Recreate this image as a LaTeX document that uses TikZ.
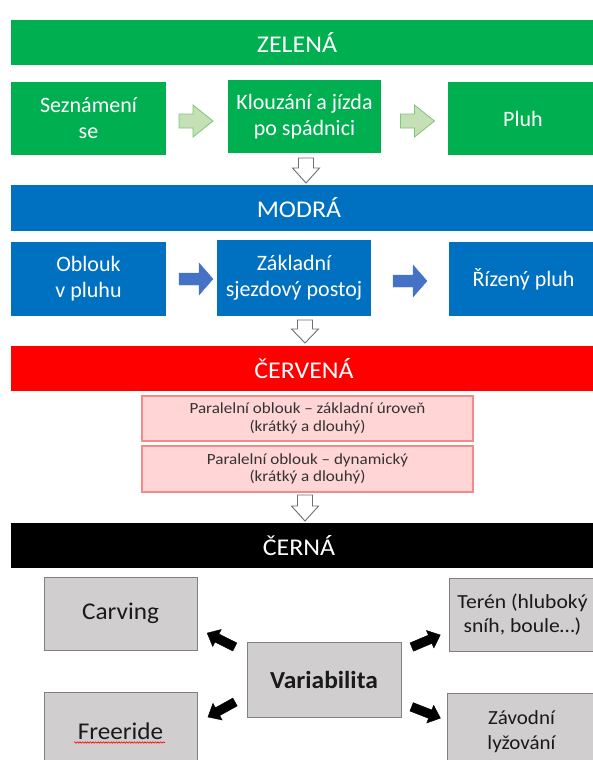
\documentclass[tikz,border=0pt]{standalone}
\usepackage{fontspec}
\setmainfont{Carlito}
\usetikzlibrary{decorations.pathmorphing}
\definecolor{cgreen}{HTML}{00B050}
\definecolor{cblue}{HTML}{0070C0}
\definecolor{cred}{HTML}{FF0000}
\definecolor{cpink}{HTML}{FFD5D5}
\definecolor{cpinkline}{HTML}{F48A8A}
\definecolor{cgray}{HTML}{D0CECE}
\definecolor{cgrayline}{HTML}{808080}
\definecolor{clgreen}{HTML}{C5E0B4}
\definecolor{clgreenline}{HTML}{7DC67D}
\definecolor{carrowblue}{HTML}{4472C4}
\definecolor{ctext}{HTML}{1A1A1A}
\definecolor{cpinktext}{HTML}{333333}
\definecolor{chollow}{HTML}{6F6F6F}

% #1 cx, #2 cy, #3 angle, #4 length, #5 shaft half width, #6 head half width, #7 head length, #8 style, #9 name
\newcommand\myblockarrow[9]{%
  \begin{scope}[shift={(#1,#2)},rotate=#3]
    \coordinate (#9) at (0,0);
    \draw[#8] ({-#4/2},{-#5}) -- ({#4/2-#7},{-#5}) -- ({#4/2-#7},{-#6}) -- ({#4/2},0)
      -- ({#4/2-#7},{#6}) -- ({#4/2-#7},{#5}) -- ({-#4/2},{#5}) -- cycle;
  \end{scope}}

% #1 style, #2 name, #3 x1, #4 y1, #5 x2, #6 y2, #7 text
\newcommand\mybox[7]{%
  \node[#1, minimum width={(#5-#3)*1pt}, minimum height={(#6-#4)*1pt}]
    (#2) at ({(#3+#5)/2},{(#4+#6)/2}) {#7};}

\tikzset{
  every node/.style={inner sep=0pt, outer sep=0pt},
  banner/.style={rectangle},
  bannertext/.style={text=white, font=\fontsize{24}{28}\selectfont\addfontfeature{FakeStretch=1.08}},
  gbox/.style={rectangle, fill=cgreen, text=white, align=center, font=\fontsize{22}{26}\selectfont},
  bbox/.style={rectangle, fill=cblue, text=white, align=center, font=\fontsize{22}{26}\selectfont},
  pbox/.style={rectangle, fill=cpink, draw=cpinkline, line width=1.2pt, text=cpinktext, align=center,
    font=\fontsize{15.5}{17.5}\selectfont\addfontfeature{FakeStretch=1.1}},
  graybox/.style={rectangle, fill=cgray, draw=cgrayline, line width=1pt, text=ctext, align=center},
  lgarrow/.style={fill=clgreen, draw=clgreenline, line width=0.8pt, line join=miter},
  blarrow/.style={fill=carrowblue, draw=carrowblue, line width=0.4pt},
  hollowarrow/.style={fill=white, draw=chollow, line width=0.9pt, line join=miter},
  blkarrow/.style={fill=black, draw=black, line width=0.4pt, line join=miter},
}

\begin{document}
\begin{tikzpicture}[x=1pt, y=-1pt]
\useasboundingbox (0,0) rectangle (593,760);
\clip (0,0) rectangle (593,760);

% ---- ZELENA ----
\mybox{banner, fill=cgreen}{zel}{11}{20}{600}{65}{}
\node[bannertext] (zelt) at (297,42.5) {ZELENÁ};
\mybox{gbox}{g1}{11}{82}{166}{155}{Seznámení\\se}
\mybox{gbox}{g2}{228}{80}{381}{153}{Klouzání a jízda\\po spádnici}
\mybox{gbox}{g3}{448}{82}{598}{155}{Pluh}
\myblockarrow{196}{121}{0}{34}{7}{16}{20}{lgarrow}{ga1}
\myblockarrow{417.5}{121}{0}{34}{7}{16}{20}{lgarrow}{ga2}
\myblockarrow{306}{170.5}{-90}{25}{7.5}{13.5}{15}{hollowarrow}{d1}

% ---- MODRA ----
\mybox{banner, fill=cblue}{mod}{11}{185}{600}{231}{}
\node[bannertext] (modt) at (299,208) {MODRÁ};
\mybox{bbox}{b1}{11}{242}{166}{316}{Oblouk\\v pluhu}
\mybox{bbox}{b2}{217}{240}{371}{316}{Základní\\sjezdový postoj}
\mybox{bbox}{b3}{449}{242}{598}{316}{Řízený pluh}
\myblockarrow{196}{279}{0}{34}{6}{16}{14}{blarrow}{ba1}
\myblockarrow{410}{281}{0}{34}{6}{16}{14}{blarrow}{ba2}
\myblockarrow{305}{331.5}{-90}{23}{7.5}{13.5}{14}{hollowarrow}{d2}

% ---- CERVENA ----
\mybox{banner, fill=cred}{cer}{11}{346}{600}{391}{}
\node[bannertext] (cert) at (304,368.5) {ČERVENÁ};
\mybox{pbox}{p1}{142}{396}{473}{441}{Paralelní oblouk – základní úroveň\\(krátký a dlouhý)}
\mybox{pbox}{p2}{142}{446}{473}{492}{Paralelní oblouk – dynamický\\(krátký a dlouhý)}
\myblockarrow{305}{508}{-90}{26}{7.5}{13.5}{15}{hollowarrow}{d3}

% ---- CERNA ----
\mybox{banner, fill=black}{crn}{11}{523}{600}{568}{}
\node[bannertext] (crnt) at (299,545.5) {ČERNÁ};
\mybox{graybox, font=\fontsize{24}{28}\selectfont\addfontfeature{FakeStretch=1.05}}{carv}{44}{577}{197}{650}{Carving}
\mybox{graybox, font=\bfseries\fontsize{24.5}{28}\selectfont\addfontfeature{FakeStretch=1.04}}{var}{247}{642}{401}{717}{Variabilita}
\mybox{graybox, font=\fontsize{20}{24}\selectfont\addfontfeature{FakeStretch=1.08}}{ter}{449}{578}{596}{651}{Terén (hluboký\\sníh, boule…)}
\mybox{graybox, font=\fontsize{24}{28}\selectfont\addfontfeature{FakeStretch=1.05}}{free}{44}{692}{197}{770}{Freeride}
\mybox{graybox, font=\fontsize{20}{25}\selectfont\addfontfeature{FakeStretch=1.05}}{zav}{447}{693}{596}{770}{Závodní\\lyžování}
\draw[red, line width=0.6pt, decorate, decoration={snake, amplitude=0.7pt, segment length=2.6pt}]
  (74,742.5) -- (165,742.5);
\myblockarrow{221}{640}{153.4}{31}{4.5}{9.5}{11}{blkarrow}{ka1}
\myblockarrow{221.5}{709.5}{209}{31}{4.5}{9.5}{11}{blkarrow}{ka2}
\myblockarrow{426}{641}{23}{31}{4.5}{9.5}{11}{blkarrow}{ka3}
\myblockarrow{426}{712.5}{-21.4}{31}{4.5}{9.5}{11}{blkarrow}{ka4}
\end{tikzpicture}
\end{document}
